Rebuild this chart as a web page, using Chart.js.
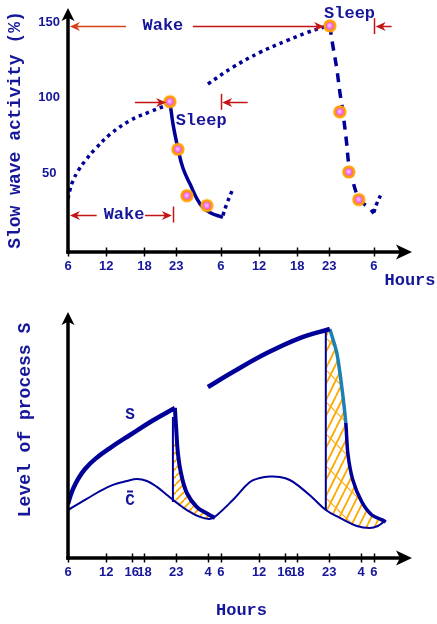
<!DOCTYPE html>
<html>
<head>
<meta charset="utf-8">
<title>Slow wave activity and process S</title>
<script src="https://cdn.jsdelivr.net/npm/chart.js@4.4.1/dist/chart.umd.min.js"></script>
<style>
  html, body { margin: 0; padding: 0; background: #fff; }
  body { width: 437px; height: 624px; position: relative; overflow: hidden; }
  canvas { position: absolute; left: 0; }
  #swa { top: 0; }
  #procS { top: 300px; }
</style>
</head>
<body>
<canvas id="swa" width="437" height="300"></canvas>
<canvas id="procS" width="437" height="324"></canvas>
<script>
// ---- time axis: hours counted from 06:00 of the first day ----
const swaTickHours  = [0, 6, 12, 17, 24, 30, 36, 41, 48];
const swaTickLabels = ['6', '12', '18', '23', '6', '12', '18', '23', '6'];
const swaValueTicks = [50, 100, 150];

// ---- slow wave activity (%) ----
const wake1Hours  = [0, 0.31, 0.78, 1.57, 2.67, 4.24, 6.59, 9.73, 12.86, 15.69];
const wake1SWA    = [33.3, 39.2, 45.1, 51.6, 58.2, 66.0, 75.8, 85.0, 90.8, 95.4];
const sleep1Hours = [16.0, 16.5, 17.25, 18.04, 19.14, 20.71, 22.27, 24.31];
const sleep1SWA   = [97.5, 82.3, 66.7, 53.6, 43.1, 30.0, 24.2, 20.9];
const wake1bHours = [24.31, 24.94, 25.88];
const wake1bSWA   = [22.2, 30.0, 39.8];
const wake2Hours  = [21.96, 25.88, 30.12, 34.35, 37.49, 40.31];
const wake2SWA    = [109.2, 120.3, 130.1, 137.9, 143.2, 147.1];
const sleep2Hours = [41.1, 41.57, 42.2, 42.67, 43.14, 43.76, 44.08, 44.71, 45.33, 46.27, 47.37, 48.0];
const sleep2SWA   = [147.7, 134.7, 119.0, 103.9, 90.8, 69.3, 56.2, 45.1, 36.6, 30.7, 26.8, 23.5];
const wake2bHours = [48.0, 48.47, 49.25];
const wake2bSWA   = [24.2, 30.0, 37.2];
// measured samples during each night
const night1Hours = [16.0, 17.25, 18.67, 21.8];
const night1SWA   = [97.5, 66.0, 35.3, 28.7];
const night2Hours = [41.1, 42.67, 44.08, 45.65];
const night2SWA   = [147.7, 90.8, 51.0, 32.7];

// ---- process S / circadian C (relative level) ----
const sTickHours  = [0, 6, 10, 12, 17, 22, 24, 30, 34, 36, 41, 46, 48];
const sTickLabels = ['6', '12', '16', '18', '23', '4', '6', '12', '16', '18', '23', '4', '6'];
const sRise1Hours = [0, 0.31, 0.78, 1.57, 2.67, 4.24, 6.59, 9.73, 13.18, 16.78];
const sRise1Level = [21.95, 24.8, 28.0, 32.1, 36.2, 40.2, 44.7, 50.0, 55.7, 61.0];
const sFall1Hours = [16.78, 17.0, 17.25, 17.73, 18.67, 20.24, 21.96, 23.06];
const sFall1Level = [61.0, 52.0, 42.7, 34.6, 26.4, 20.7, 17.9, 16.3];
const sRise2Hours = [21.96, 25.88, 31.22, 36.39, 41.1];
const sRise2Level = [69.5, 75.6, 83.3, 89.4, 93.1];
const sFall2Hours = [41.1, 42.2, 42.98, 43.61, 43.92, 44.71, 46.12, 47.69, 49.41, 49.88];
const sFall2Level = [93.1, 83.3, 69.5, 54.9, 42.7, 31.7, 22.8, 17.5, 15.4, 14.6];
const cHours = [0, 1.88, 3.45, 5.02, 7.06, 9.25, 10.82, 12.39, 13.96, 15.53, 17.1, 18.67, 20.71, 22.27,
                23.22, 25.88, 28.55, 30.12, 31.69, 33.25, 34.82, 36.39, 38.43, 40.47, 42.67, 45.33, 47.37, 48.63, 49.73];
const cLevel = [19.5, 22.4, 24.8, 27.2, 29.7, 31.3, 32.1, 31.3, 28.9, 25.6, 22.4, 19.5, 16.7, 15.9,
                17.1, 23.6, 30.9, 32.5, 33.1, 32.9, 31.7, 28.9, 24.4, 19.5, 16.3, 13.0, 12.2, 13.0, 15.0];
const onset1Hours = [16.47, 16.47];
const onset1Level = [57.3, 22.8];
const onset2Hours = [40.47, 40.47];
const onset2Level = [92.7, 19.5];
// areas between S and C during sleep
const gap1Hours = [16.55, 16.55, 18.04, 19.61, 21.18, 22.59, 21.96, 20.24, 18.67, 17.73, 17.25, 17.1];
const gap1Level = [48.0, 22.8, 20.0, 17.6, 16.3, 16.0, 17.9, 20.7, 26.4, 34.6, 42.7, 48.0];
const gap2Hours = [40.6, 40.6, 42.67, 45.33, 47.37, 48.63, 49.73, 49.41, 47.69, 46.12, 44.71, 43.92, 43.61, 42.98, 42.2, 41.25];
const gap2Level = [91.9, 19.5, 16.3, 13.0, 12.2, 13.0, 15.0, 15.4, 17.5, 22.8, 31.7, 42.7, 54.9, 69.5, 83.3, 92.7];

// ---- styling ----
const NAVY = '#000099';
const INK = '#16169a';
const RED = '#c41414';
const RED_ORANGE = '#d8401a';
const ORANGE = '#ffa800';
const TEAL = '#1b80b4';
const MONO = '"Liberation Mono", "Courier New", monospace';
const SANS = '"Liberation Sans", Arial, sans-serif';

const pts = (xs, ys) => xs.map((x, i) => ({ x, y: ys[i] }));

function ringMarker() {
  const c = document.createElement('canvas');
  c.width = c.height = 16;
  const g = c.getContext('2d');
  g.beginPath(); g.arc(8, 8, 6.6, 0, Math.PI * 2); g.fillStyle = '#ffa200'; g.fill();
  const rg = g.createRadialGradient(7.5, 7.5, 0.4, 8, 8, 4);
  rg.addColorStop(0, '#ffc0ff'); rg.addColorStop(1, '#e548e5');
  g.beginPath(); g.arc(8, 8, 3.8, 0, Math.PI * 2); g.fillStyle = rg; g.fill();
  return c;
}

function hatch(w, h, lines) {
  const c = document.createElement('canvas');
  c.width = w; c.height = h;
  const g = c.getContext('2d');
  g.strokeStyle = ORANGE;
  lines.forEach(([x1, y1, x2, y2, lw]) => {
    g.lineWidth = lw;
    g.beginPath(); g.moveTo(x1, y1); g.lineTo(x2, y2); g.stroke();
  });
  return g.createPattern(c, 'repeat');
}

// fine 45° hatching
const hatchA = (() => {
  const L = [];
  for (let k = -1; k <= 1; k++) L.push([k * 8, 8, k * 8 + 8, 0, 1.8]);
  return hatch(8, 8, L);
})();
// steep hatching with a few crossing strokes
const hatchB = (() => {
  const L = [];
  for (let x0 = -32; x0 <= 32; x0 += 8) L.push([x0, 32, x0 + 16, 0, 1.8]);
  for (let x0 = -32; x0 <= 32; x0 += 32) L.push([x0, 0, x0 + 32, 32, 1.1]);
  return hatch(32, 32, L);
})();

function arrowHead(ctx, tx, ty, dx, dy, len, half, notch) {
  const nx = -dy, ny = dx;
  const bx = tx - dx * len, by = ty - dy * len;
  ctx.beginPath();
  ctx.moveTo(tx, ty);
  ctx.lineTo(bx + nx * half, by + ny * half);
  ctx.lineTo(tx - dx * len * (1 - notch), ty - dy * len * (1 - notch));
  ctx.lineTo(bx - nx * half, by - ny * half);
  ctx.closePath();
  ctx.fill();
}

// axes with arrow tips and crossing tick marks
const frame = {
  id: 'frame',
  afterDraw(chart) {
    const { ctx, chartArea: a, scales: { x } } = chart;
    ctx.save();
    ctx.strokeStyle = '#000'; ctx.fillStyle = '#000';
    ctx.lineWidth = 3.5;
    ctx.beginPath(); ctx.moveTo(a.left, a.bottom + 1.75); ctx.lineTo(a.left, a.top + 9); ctx.stroke();
    arrowHead(ctx, a.left, a.top, 0, -1, 13, 6.5, 0.25);
    ctx.beginPath(); ctx.moveTo(a.left - 1.75, a.bottom); ctx.lineTo(a.right - 10, a.bottom); ctx.stroke();
    arrowHead(ctx, a.right, a.bottom, 1, 0, 16, 7.5, 0.25);
    ctx.lineWidth = 1.5;
    x.ticks.forEach(t => {
      const px = Math.round(x.getPixelForValue(t.value)) + 0.5;
      ctx.beginPath(); ctx.moveTo(px, a.bottom - 4.5); ctx.lineTo(px, a.bottom + 4.5); ctx.stroke();
    });
    ctx.restore();
  }
};

function text(ctx, str, x, y, font, rot) {
  ctx.save();
  ctx.translate(x, y);
  if (rot) ctx.rotate(rot);
  ctx.font = font; ctx.fillStyle = INK;
  ctx.textAlign = 'center'; ctx.textBaseline = 'middle';
  ctx.fillText(str, 0, 0);
  ctx.restore();
}

// wake / sleep episodes marked along the slow wave panel
const swaEpisodes = {
  labels: [
    { text: 'Wake',  h: 14.9, v: 147.5 },
    { text: 'Sleep', h: 44.2, v: 156.0 },
    { text: 'Sleep', h: 20.9, v: 84.6 },
    { text: 'Wake',  h: 8.8,  v: 22.8 }
  ],
  arrows: [
    { from: 9.1,  to: 0.3,  v: 147.5, color: RED_ORANGE },
    { from: 19.6, to: 40.2, v: 147.5 },
    { from: 50.8, to: 48.3, v: 147.5 },
    { from: 10.5, to: 15.4, v: 97.4 },
    { from: 28.2, to: 24.2, v: 97.4 },
    { from: 4.5,  to: 0.3,  v: 22.8 },
    { from: 12.1, to: 16.3, v: 22.8 }
  ],
  bars: [
    { h: 48.0, v: 147.5 },
    { h: 24.0, v: 97.4 },
    { h: 16.5, v: 22.8 }
  ]
};

const swaNotes = {
  id: 'swaNotes',
  afterDraw(chart) {
    const { ctx, scales: { x, y } } = chart;
    ctx.save();
    ctx.lineWidth = 1.5;
    swaEpisodes.arrows.forEach(a => {
      ctx.strokeStyle = ctx.fillStyle = a.color || RED;
      const x1 = x.getPixelForValue(a.from), x2 = x.getPixelForValue(a.to);
      const py = Math.round(y.getPixelForValue(a.v)) + 0.5;
      const d = Math.sign(x2 - x1);
      ctx.beginPath(); ctx.moveTo(x1, py); ctx.lineTo(x2 - d * 5, py); ctx.stroke();
      arrowHead(ctx, x2, py, d, 0, 10, 4.5, 0.3);
    });
    ctx.strokeStyle = RED;
    swaEpisodes.bars.forEach(b => {
      const px = Math.round(x.getPixelForValue(b.h)) + 0.5;
      const py = y.getPixelForValue(b.v);
      ctx.beginPath(); ctx.moveTo(px, py - 8); ctx.lineTo(px, py + 8); ctx.stroke();
    });
    ctx.restore();
    swaEpisodes.labels.forEach(l =>
      text(ctx, l.text, x.getPixelForValue(l.h), y.getPixelForValue(l.v), 'bold 17px ' + MONO));
    text(ctx, 'Slow wave activity (%)', 15, 130, 'bold 18px ' + MONO, -Math.PI / 2);
    text(ctx, 'Hours', 410, 281, 'bold 17px ' + MONO);
  }
};

const sNotes = {
  id: 'sNotes',
  afterDraw(chart) {
    const { ctx, scales: { x, y } } = chart;
    const sx = x.getPixelForValue(9.73);
    text(ctx, 'S', sx, y.getPixelForValue(58.1), 'bold 16px ' + MONO);
    text(ctx, 'C', sx, y.getPixelForValue(23.2), 'bold 16px ' + MONO);
    ctx.save();
    ctx.strokeStyle = INK; ctx.lineWidth = 2;
    const oy = Math.round(y.getPixelForValue(27.2)) + 0.5;
    ctx.beginPath(); ctx.moveTo(sx - 3, oy); ctx.lineTo(sx + 3, oy); ctx.stroke();
    ctx.restore();
    text(ctx, 'Level of process S', 25, 120, 'bold 18px ' + MONO, -Math.PI / 2);
    text(ctx, 'Hours', 241.5, 311, 'bold 17px ' + MONO);
  }
};

// smooth spline through the sampled points
const curve = (data, color, width, extra) => Object.assign({
  data, borderColor: color, borderWidth: width, pointRadius: 0,
  tension: 0.4, fill: false
}, extra || {});

// scales keep the exact frame: no extra room reserved for edge labels
const noEdgePadding = s => { s.paddingTop = 0; s.paddingBottom = 0; s.paddingLeft = 0; s.paddingRight = 0; };

function hourAxis(ticks, labels, height) {
  return {
    type: 'linear', min: 0, max: 54,
    grid: { display: false, drawTicks: false }, border: { display: false },
    afterBuildTicks: s => { s.ticks = ticks.map(v => ({ value: v })); },
    afterFit: s => { s.height = height; noEdgePadding(s); },
    ticks: {
      autoSkip: false, maxRotation: 0, padding: 7, color: INK,
      font: { family: SANS, size: 13, weight: 'bold' },
      callback: (v, i) => labels[i]
    }
  };
}

const common = {
  responsive: false, devicePixelRatio: 1, animation: false,
  plugins: { legend: { display: false }, tooltip: { enabled: false } }
};

const ring = ringMarker();
const DOTS = [3.5, 4];

new Chart(document.getElementById('swa'), {
  type: 'line',
  data: {
    datasets: [
      { data: pts(night1Hours, night1SWA), showLine: false, pointStyle: ring, pointRadius: 7 },
      { data: pts(night2Hours, night2SWA), showLine: false, pointStyle: ring, pointRadius: 7 },
      curve(pts(wake1Hours, wake1SWA), NAVY, 3.5, { borderDash: DOTS }),
      curve(pts(sleep1Hours, sleep1SWA), NAVY, 3.5),
      curve(pts(wake1bHours, wake1bSWA), NAVY, 3.5, { borderDash: DOTS }),
      curve(pts(wake2Hours, wake2SWA), NAVY, 3.5, { borderDash: DOTS }),
      curve(pts(sleep2Hours, sleep2SWA), NAVY, 3.5, { borderDash: [9, 7] }),
      curve(pts(wake2bHours, wake2bSWA), NAVY, 3.5, { borderDash: DOTS })
    ]
  },
  options: Object.assign({}, common, {
    layout: { padding: { top: 5, right: 25, left: 0, bottom: 0 } },
    scales: {
      x: hourAxis(swaTickHours, swaTickLabels, 48),
      y: {
        type: 'linear', min: -2, max: 159.5,
        grid: { display: false, drawTicks: false }, border: { display: false },
        afterBuildTicks: s => { s.ticks = swaValueTicks.map(v => ({ value: v })); },
        afterFit: s => { s.width = 68; noEdgePadding(s); },
        ticks: { padding: 8, crossAlign: 'center', color: INK, font: { family: SANS, size: 13, weight: 'bold' } }
      }
    }
  }),
  plugins: [frame, swaNotes]
});

new Chart(document.getElementById('procS'), {
  type: 'line',
  data: {
    datasets: [
      curve(pts(sRise1Hours, sRise1Level), NAVY, 4.5),
      curve(pts(sFall1Hours, sFall1Level), NAVY, 4),
      curve(pts(sRise2Hours, sRise2Level), NAVY, 4.5),
      curve(pts(sFall2Hours, sFall2Level), NAVY, 3.5, {
        tension: 0.25,
        segment: { borderColor: c => (c.p1DataIndex <= 3 ? TEAL : NAVY) }
      }),
      curve(pts(cHours, cLevel), NAVY, 2),
      curve(pts(onset1Hours, onset1Level), NAVY, 2, { tension: 0 }),
      curve(pts(onset2Hours, onset2Level), NAVY, 2, { tension: 0 }),
      { data: pts(gap1Hours, gap1Level), fill: 'shape', backgroundColor: hatchA, borderWidth: 0, pointRadius: 0, tension: 0 },
      { data: pts(gap2Hours, gap2Level), fill: 'shape', backgroundColor: hatchB, borderWidth: 0, pointRadius: 0, tension: 0 }
    ]
  },
  options: Object.assign({}, common, {
    layout: { padding: { top: 12, right: 25, left: 0, bottom: 0 } },
    scales: {
      x: hourAxis(sTickHours, sTickLabels, 66),
      y: {
        type: 'linear', min: 0, max: 100,
        grid: { display: false, drawTicks: false }, border: { display: false },
        afterFit: s => { s.width = 68; noEdgePadding(s); },
        ticks: { display: false }
      }
    }
  }),
  plugins: [frame, sNotes]
});
</script>
</body>
</html>
